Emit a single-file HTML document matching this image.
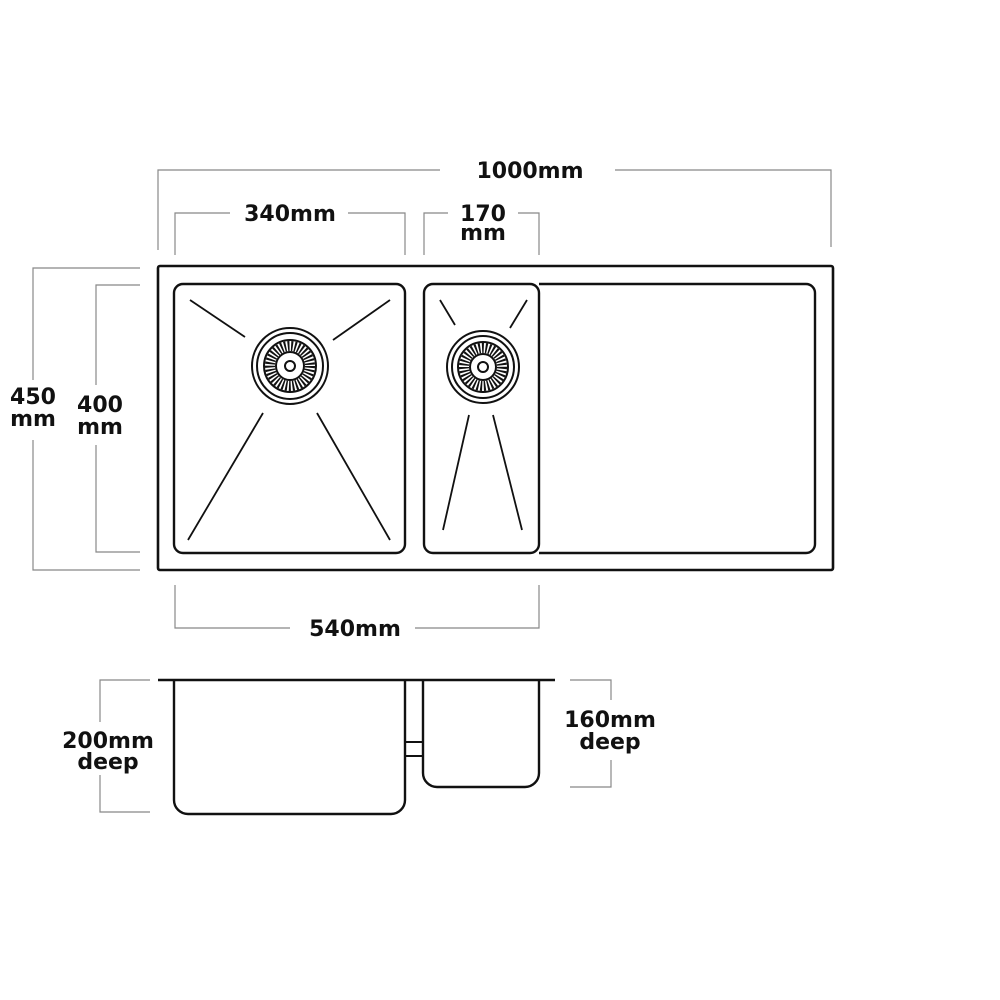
<!DOCTYPE html>
<html><head><style>
html,body{margin:0;padding:0;background:#fff;}
svg{display:block}
text{font-family:"DejaVu Sans","Liberation Sans",sans-serif;font-size:22px;font-weight:bold;fill:#111;text-anchor:middle;}
</style></head><body>
<svg width="1000" height="1000" viewBox="0 0 1000 1000">
<g stroke="#888" stroke-width="1.2" fill="none">
<path d="M158 250V170H440M615 170H831V247"/>
<path d="M175 255V213H230M348 213H405V255"/>
<path d="M424 255V213H448M518 213H539V255"/>
<path d="M140 268H33V380M33 440V570H140"/>
<path d="M140 285H96V385M96 445V552H140"/>
<path d="M175 585V628H290M415 628H539V585"/>
<path d="M150 680H100V722M100 775V812H150"/>
<path d="M570 680H611V700M611 760V787H570"/>
</g>
<g fill="#111">
<text x="530" y="178">1000mm</text>
<text x="290" y="221">340mm</text>
<text x="483" y="221">170</text>
<text x="483" y="240">mm</text>
<text x="33" y="404">450</text>
<text x="33" y="426">mm</text>
<text x="100" y="412">400</text>
<text x="100" y="434">mm</text>
<text x="355" y="636">540mm</text>
<text x="108" y="748">200mm</text>
<text x="108" y="769">deep</text>
<text x="610" y="727">160mm</text>
<text x="610" y="749">deep</text>
</g>
<g stroke="#111" fill="none">
<rect x="158" y="266" width="675" height="304" rx="2" stroke-width="2.6"/>
<rect x="174" y="284" width="231" height="269" rx="9" stroke-width="2.4"/>
<path d="M539 284H806a9 9 0 0 1 9 9V544a9 9 0 0 1-9 9H539" stroke-width="2.4"/>
<rect x="424" y="284" width="115" height="269" rx="9" stroke-width="2.4"/>
<g stroke-width="1.8">
<path d="M190 300L245 337M390 300L333 340M263 413L188 540M317 413L390 540"/>
<path d="M440 300L455 325M527 300L510 328M469 415L443 530M493 415L522 530"/>
</g>
<g stroke-width="2">
<circle cx="290" cy="366" r="38"/><circle cx="290" cy="366" r="33"/>
<circle cx="290" cy="366" r="26"/><circle cx="290" cy="366" r="14"/><circle cx="290" cy="366" r="5"/>
<circle cx="290" cy="366" r="20" stroke-width="10" stroke-dasharray="1.8 1.6"/>
<circle cx="483" cy="367" r="36"/><circle cx="483" cy="367" r="31"/>
<circle cx="483" cy="367" r="25"/><circle cx="483" cy="367" r="13"/><circle cx="483" cy="367" r="5"/>
<circle cx="483" cy="367" r="19" stroke-width="10" stroke-dasharray="1.8 1.6"/>
</g>
<g stroke-width="2.4">
<path d="M158 680H555"/>
<path d="M174 680V800a14 14 0 0 0 14 14H391a14 14 0 0 0 14-14V680"/>
<path d="M423 680V773a14 14 0 0 0 14 14H525a14 14 0 0 0 14-14V680"/>
<path d="M405 742H423M405 756H423" stroke-width="2"/>
</g>
</g>
</svg>
</body></html>
